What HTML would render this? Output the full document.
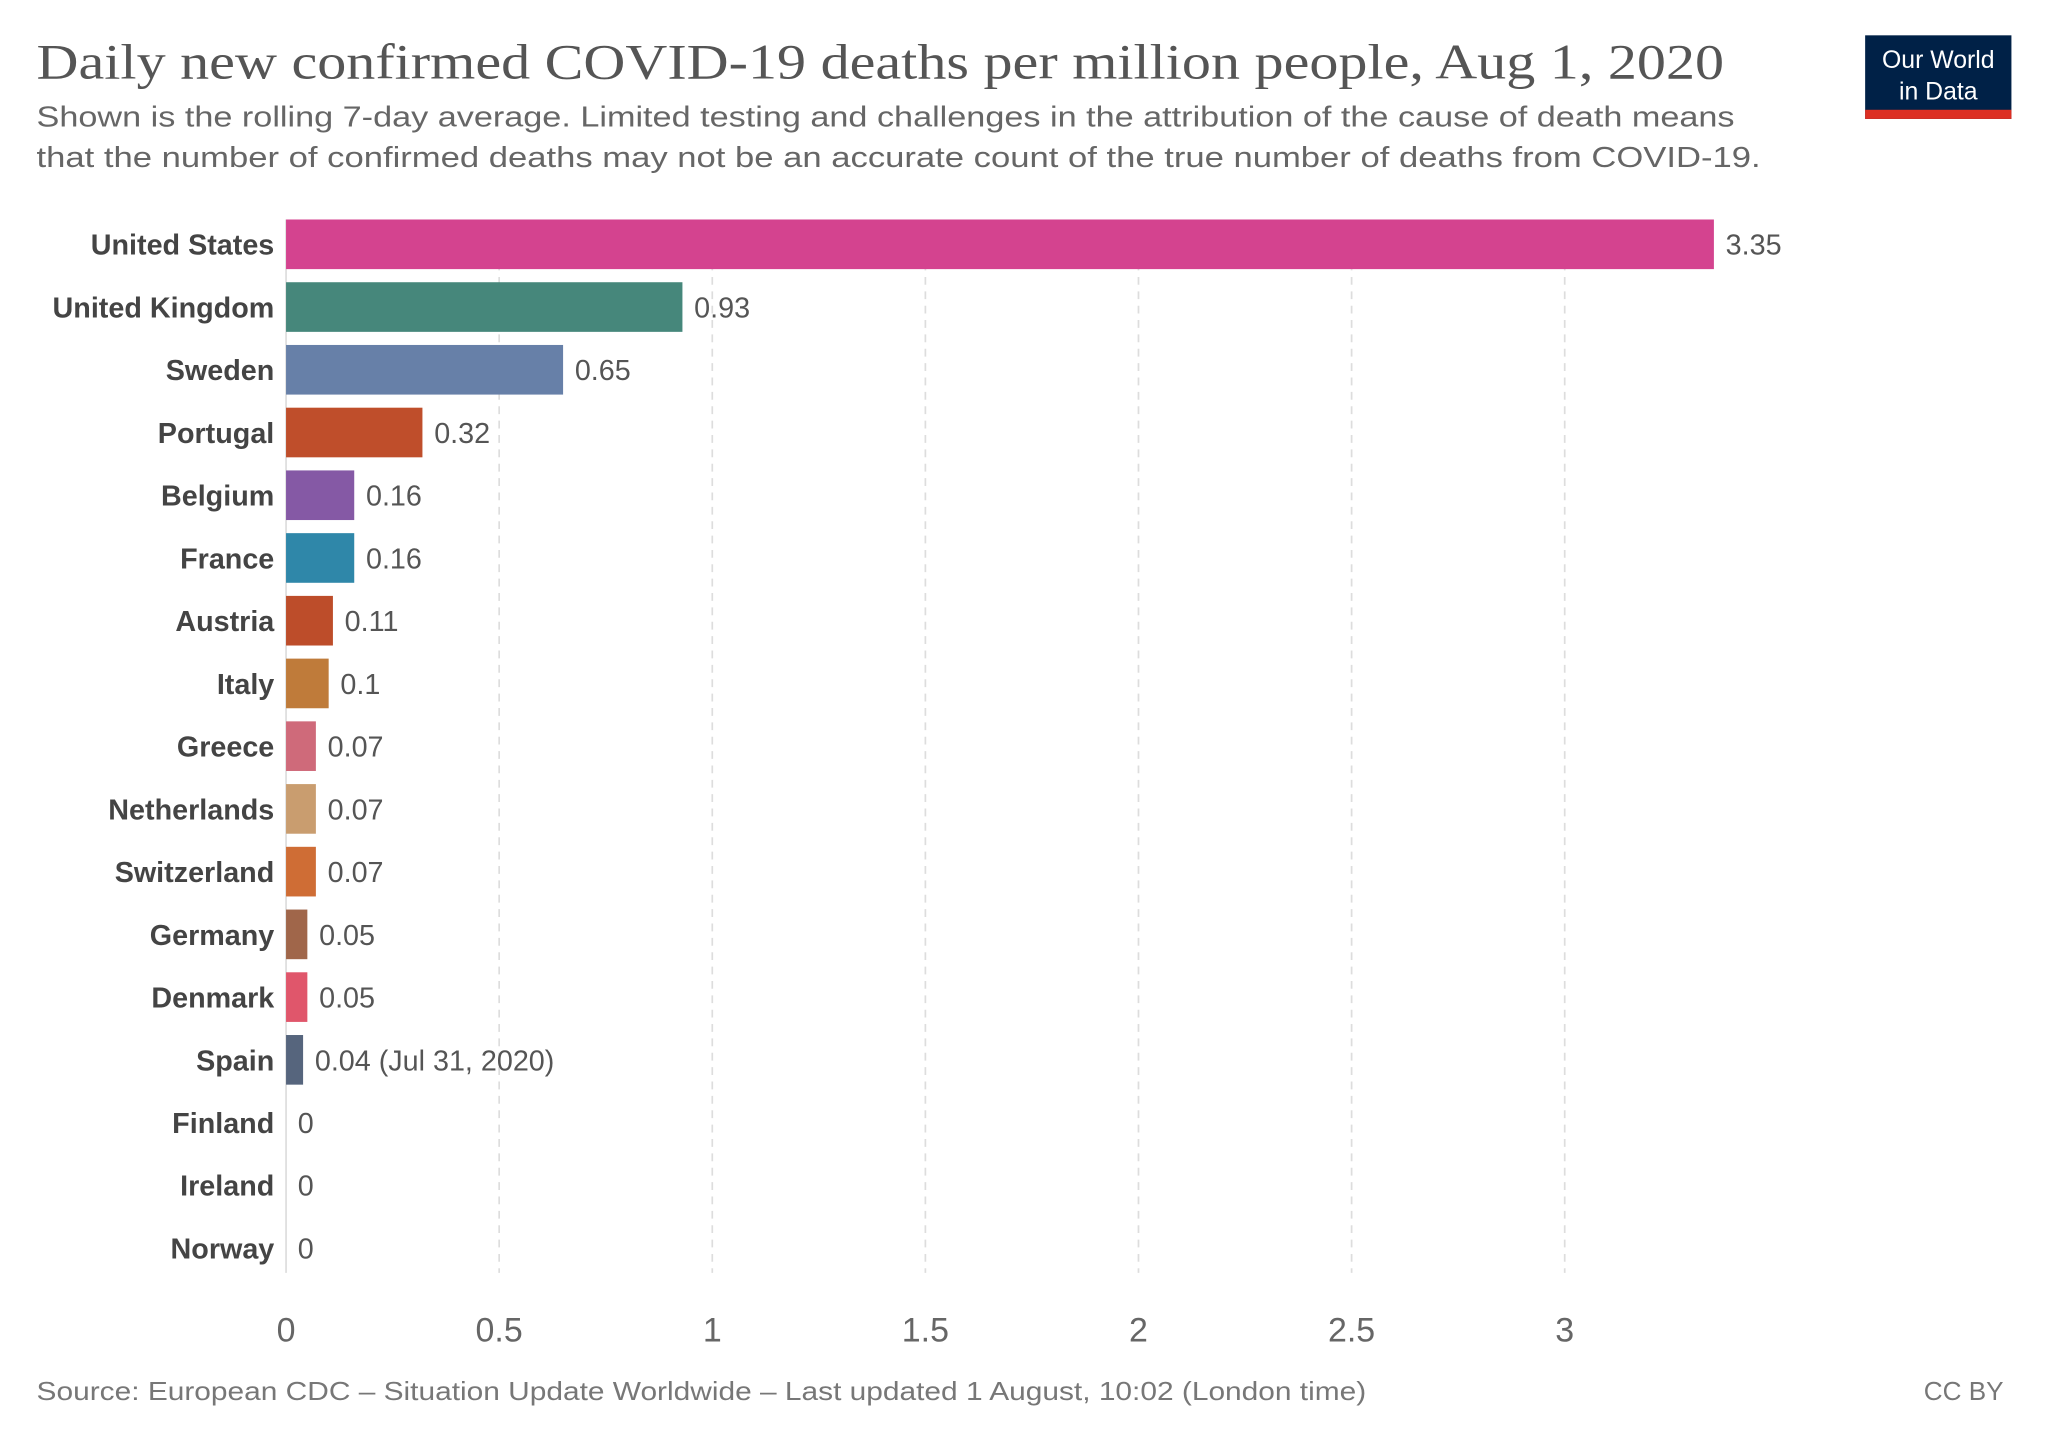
<!DOCTYPE html>
<html><head><meta charset="utf-8"><style>
html,body{margin:0;padding:0;background:#fff;}
svg{display:block;}
text{font-family:"Liberation Sans",sans-serif;}
</style></head><body>
<svg id="chart" width="2048" height="1446" viewBox="0 0 1568 1107" xmlns="http://www.w3.org/2000/svg">
<text x="28" y="60" style="font-family:'Liberation Serif',serif" font-size="38" fill="#555" textLength="1292" lengthAdjust="spacingAndGlyphs">Daily new confirmed COVID-19 deaths per million people, Aug 1, 2020</text>
<text x="28" y="97" font-size="22" fill="#666" textLength="1300" lengthAdjust="spacingAndGlyphs">Shown is the rolling 7-day average. Limited testing and challenges in the attribution of the cause of death means</text>
<text x="28" y="128" font-size="22" fill="#666" textLength="1320" lengthAdjust="spacingAndGlyphs">that the number of confirmed deaths may not be an accurate count of the true number of deaths from COVID-19.</text>
<g>
<rect x="1428" y="27" width="112" height="64" fill="#002147"/>
<rect x="1428" y="84" width="112" height="7" fill="#dc2f23"/>
<text x="1484" y="52" font-size="19" fill="#fff" text-anchor="middle">Our World</text>
<text x="1484" y="76" font-size="19" fill="#fff" text-anchor="middle">in Data</text>
</g>
<g id="grid"></g>
<g id="bars"></g>
<g id="ticks"></g>
<text x="28" y="1072" font-size="20" fill="#777" textLength="1018" lengthAdjust="spacingAndGlyphs">Source: European CDC – Situation Update Worldwide – Last updated 1 August, 10:02 (London time)</text>
<text x="1534" y="1072" font-size="20" fill="#777" text-anchor="end">CC BY</text>
</svg>
<script>
const countries = ["United States","United Kingdom","Sweden","Portugal","Belgium","France","Austria","Italy","Greece","Netherlands","Switzerland","Germany","Denmark","Spain","Finland","Ireland","Norway"];
const values = [3.35,0.93,0.65,0.32,0.16,0.16,0.11,0.1,0.07,0.07,0.07,0.05,0.05,0.04,0,0,0];
const valueLabels = ["3.35","0.93","0.65","0.32","0.16","0.16","0.11","0.1","0.07","0.07","0.07","0.05","0.05","0.04 (Jul 31, 2020)","0","0","0"];
const colors = ["#d4438f","#46877b","#6780a8","#bf4e2b","#8559a5","#2f87a9","#bd4d2a","#bf7b3a","#cf6a7a","#c99d6f","#cf6d35","#a0664a","#e0566b","#56657d","#999","#999","#999"];
const ticks = [0,0.5,1,1.5,2,2.5,3];
const tickLabels = ["0","0.5","1","1.5","2","2.5","3"];

const NS="http://www.w3.org/2000/svg";
const x0=219, pxPerUnit=326.33, plotTop=168, pitch=48.03, barH=38;
const xs=v=>x0+v*pxPerUnit;
const ys=i=>plotTop+i*pitch;
function mk(tag,attrs,parent){const e=document.createElementNS(NS,tag);for(const k in attrs)e.setAttribute(k,attrs[k]);parent.appendChild(e);return e;}
const gridG=document.getElementById('grid'),barsG=document.getElementById('bars'),tickG=document.getElementById('ticks');
const plotBottom=ys(countries.length)-10;
ticks.forEach((t,i)=>{
  const l=mk('line',{x1:xs(t),x2:xs(t),y1:plotTop,y2:plotBottom,stroke:'#ddd','stroke-width':1.3,'stroke-dasharray':t===0?'none':'6,5'},gridG);
  
  
  const tx=mk('text',{x:xs(t),y:1027,'font-size':26,fill:'#666','text-anchor':'middle'},tickG);
  tx.textContent=tickLabels[i];
  
  
});
countries.forEach((c,i)=>{
  const y=ys(i), cy=y+barH/2;
  const lb=mk('text',{x:210,y:cy+8,'font-size':22,'font-weight':'bold',fill:'#444','text-anchor':'end'},barsG);
  lb.textContent=c;
  
  
  const w=xs(values[i])-x0;
  if(w>0){
    const r=mk('rect',{x:x0,y:y,width:w,height:barH,fill:colors[i]},barsG);
    
    
  }
  const vl=mk('text',{x:xs(values[i])+9,y:cy+8,'font-size':22,fill:'#555'},barsG);
  vl.textContent=valueLabels[i];
  
  
});
</script>
</body></html>
